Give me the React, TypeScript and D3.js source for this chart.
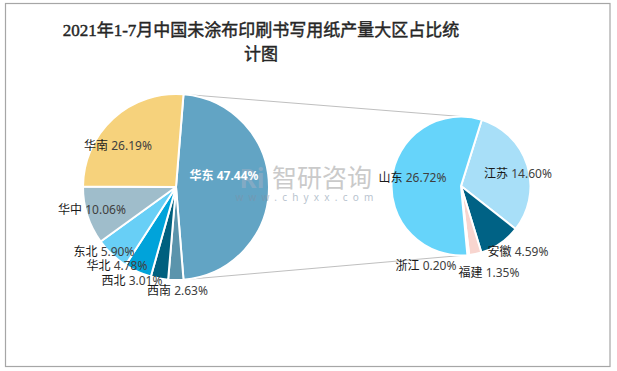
import React from 'react';
import * as d3 from 'd3';

const titleLines = ['2021年1-7月中国未涂布印刷书写用纸产量大区占比统', '计图'];

const leftNames = ['华东', '西南', '西北', '华北', '东北', '华中', '华南'];
const leftValues = [47.44, 2.63, 3.01, 4.78, 5.90, 10.06, 26.19];
const leftColors = ['#62A4C4', '#5B94AC', '#00607F', '#00A3DA', '#68CFF6', '#9FBDCB', '#F6D27C'];

const rightNames = ['江苏', '安徽', '福建', '浙江', '山东'];
const rightValues = [14.60, 4.59, 1.35, 0.20, 26.72];
const rightColors = ['#A8DFF8', '#006285', '#F8D5CF', '#E8F4F8', '#66D4FA'];

// label offsets relative to pie centres (layout only)
const leftLabelOffsets: [number, number][] = [
  [48, -12], [1.5, 103], [-44, 93], [-59, 78], [-72, 64], [-84, 22], [-58, -42],
];
const rightLabelOffsets: [number, number][] = [
  [57, -13], [57, 65], [28, 86], [-35, 79], [-48.5, -9],
];

const W = 617;
const H = 371;
const L = { cx: 176, cy: 187, r: 93 };
const R = { cx: 461, cy: 186, r: 69.5 };
const FONT = "'Noto Sans', 'Noto Sans CJK SC', sans-serif";

export default function App() {
  const leftShare = leftValues[0] / d3.sum(leftValues);
  const lStart = Math.PI / 2 - leftShare * Math.PI;
  const leftPie = d3.pie<number>().sort(null).startAngle(lStart).endAngle(lStart + 2 * Math.PI)(leftValues);
  const rStart = (17.4 * Math.PI) / 180;
  const rightPie = d3.pie<number>().sort(null).startAngle(rStart).endAngle(rStart + 2 * Math.PI)(rightValues);

  const arcL = d3.arc<d3.PieArcDatum<number>>().innerRadius(0).outerRadius(L.r);
  const arcR = d3.arc<d3.PieArcDatum<number>>().innerRadius(0).outerRadius(R.r);

  const a0 = leftPie[0].startAngle;
  const a1 = leftPie[0].endAngle;
  const topL: [number, number] = [L.cx + L.r * Math.sin(a0), L.cy - L.r * Math.cos(a0)];
  const botL: [number, number] = [L.cx + L.r * Math.sin(a1), L.cy - L.r * Math.cos(a1)];
  const topR: [number, number] = [R.cx, R.cy - R.r];
  const botR: [number, number] = [R.cx, R.cy + R.r];

  const fmt = (v: number) => v.toFixed(2) + '%';

  return (
    <svg width={W} height={H} style={{ position: 'absolute', left: 0, top: 0 }} xmlns="http://www.w3.org/2000/svg">
      <rect x={0} y={0} width={W} height={H} fill="#fff" />
      <rect x={5.5} y={3.5} width={604.5} height={363} fill="#fff" stroke="#A6A6A6" strokeWidth={1.2} />
      {titleLines.map((t, i) => (
        <text key={i} x={261} y={36 + i * 24} textAnchor="middle" fontSize={17} fontWeight="normal"
          stroke="#262626" strokeWidth={0.45}
          fontFamily="'Liberation Serif', 'Noto Sans CJK SC', serif" fill="#262626">{t}</text>
      ))}

      <line x1={topL[0]} y1={topL[1]} x2={topR[0]} y2={topR[1]} stroke="#BFBFBF" strokeWidth={1} />
      <line x1={botL[0]} y1={botL[1]} x2={botR[0]} y2={botR[1]} stroke="#BFBFBF" strokeWidth={1} />

      <g transform={`translate(${L.cx},${L.cy})`}>
        {leftPie.map((d, i) => (
          <path key={i} d={arcL(d) || ''} fill={leftColors[i]} stroke="#fff" strokeWidth={2} strokeLinejoin="round" />
        ))}
      </g>
      <g transform={`translate(${R.cx},${R.cy})`}>
        {rightPie.map((d, i) => (
          <path key={i} d={arcR(d) || ''} fill={rightColors[i]} stroke="#fff" strokeWidth={2} strokeLinejoin="round" />
        ))}
      </g>

      {/* watermark */}
      <g opacity={0.55}>
        <text x={252} y={188} textAnchor="middle" fontSize={26} fontWeight="bold" fontFamily={FONT} fill="#9DB0C4">Ri</text>
        <text x={322} y={187} textAnchor="middle" fontSize={25} fontFamily={FONT} fill="#A0A0A0">智研咨询</text>
        <text x={307} y={201} textAnchor="middle" fontSize={10} letterSpacing={5.2} fontFamily={FONT} fill="#7E93A8">www.chyxx.com</text>
      </g>

      {leftPie.map((d, i) => (
        <text key={'l' + i} x={L.cx + leftLabelOffsets[i][0]} y={L.cy + leftLabelOffsets[i][1]}
          textAnchor="middle" dominantBaseline="central" fontSize={12} fontFamily={FONT}
          fontWeight={i === 0 ? 'bold' : 'normal'}>
          <tspan fill={i === 0 ? '#fff' : '#1a1a1a'}>{leftNames[i]} </tspan>
          <tspan fill={i === 0 ? '#fff' : '#404040'}>{fmt(d.data)}</tspan>
        </text>
      ))}
      {rightPie.map((d, i) => (
        <text key={'r' + i} x={R.cx + rightLabelOffsets[i][0]} y={R.cy + rightLabelOffsets[i][1]}
          textAnchor="middle" dominantBaseline="central" fontSize={12} fontFamily={FONT}>
          <tspan fill="#1a1a1a">{rightNames[i]} </tspan>
          <tspan fill="#404040">{fmt(d.data)}</tspan>
        </text>
      ))}
    </svg>
  );
}
